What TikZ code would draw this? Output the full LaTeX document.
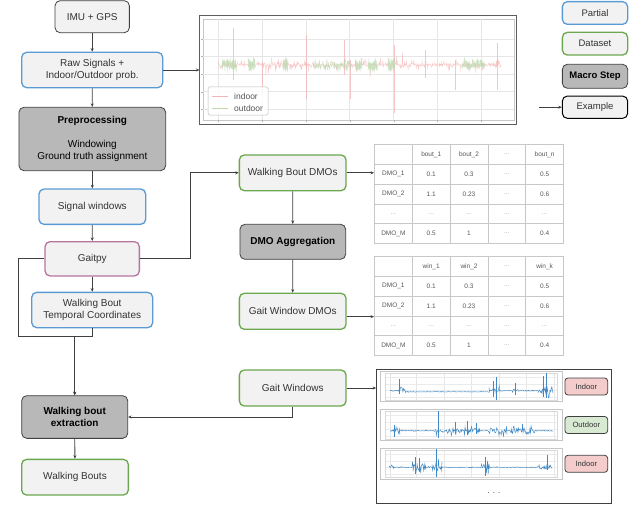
\documentclass[tikz,border=0pt]{standalone}
\usepackage{fontspec}
\setmainfont{Liberation Sans}
\usetikzlibrary{arrows.meta,calc,matrix}

\definecolor{nodefill}{HTML}{F2F2F2}
\definecolor{partblue}{HTML}{5B9BD5}
\definecolor{datagreen}{HTML}{6AA84F}
\definecolor{gaitpink}{HTML}{B5739D}
\definecolor{macrogray}{HTML}{B8B8B8}
\definecolor{darkline}{HTML}{404040}
\definecolor{txt}{HTML}{333333}
\definecolor{gridc}{HTML}{E6E6E6}
\definecolor{sigred}{HTML}{F4B4B4}
\definecolor{siggreen}{HTML}{BCDBB1}
\definecolor{sigblue}{HTML}{3F8AC6}
\definecolor{indoorfill}{HTML}{F4CCCC}
\definecolor{outdoorfill}{HTML}{D9EAD3}
\definecolor{tabline}{HTML}{C8C8C8}
\definecolor{tabtxt}{HTML}{555555}

\newcommand\tdots{{\color{tabtxt!55}...}}
\newcommand\wsig[4]{%
  \pgfmathtruncatemacro\wsn{max(3,1.8*(#2-#1))}%
  \draw[sigblue, line width=0.45pt] plot[domain=#1:#2, samples=\wsn] (\x,{#3+(2*rnd-1)*#4*(0.3+0.7*rnd^2)});}

\begin{document}
\begin{tikzpicture}[x=1pt,y=-1pt,
  box/.style={rounded corners=5pt, fill=nodefill, align=center, inner sep=0pt, text=txt, font=\fontsize{10}{12}\selectfont},
  partial/.style={box, draw=partblue, line width=1.3pt},
  dataset/.style={box, draw=datagreen, line width=1.3pt},
  macro/.style={box, draw=darkline, fill=macrogray, line width=0.8pt, text=black},
  plainbox/.style={box, draw=darkline, line width=0.8pt},
  gaitbox/.style={box, draw=gaitpink, line width=1.3pt},
  sz/.style 2 args={minimum width=#1pt, minimum height=#2pt},
  conn/.style={draw=darkline, line width=0.8pt, -{Stealth[length=3.5pt,width=3pt]}},
  legfont/.style={font=\fontsize{9.5}{11}\selectfont},
  plotbox/.style={draw=gray!45, line width=0.8pt, fill=white, inner sep=0pt},
  tagbox/.style={draw=darkline, rounded corners=3pt, line width=0.8pt, inner sep=0pt, text=txt, font=\fontsize{7.6}{9}\selectfont},
  tabstyle/.style={matrix of nodes, anchor=north west, inner sep=0pt, nodes in empty cells, column sep=-0.6pt, row sep=-0.6pt,
    nodes={draw=tabline, line width=0.6pt, minimum width=37.8pt, minimum height=19.8pt, anchor=center, inner sep=0pt,
      font=\fontsize{6.5}{7}\selectfont, text=tabtxt}},
]
\useasboundingbox (0,0) rectangle (640,519);

% ---------- left column ----------
\node[plainbox, sz={74.3}{32}] (imu) at (92.2,16.7) {IMU + GPS};
\node[partial, sz={141}{35.4}] (raw) at (92.2,70) {Raw Signals +\\Indoor/Outdoor prob.};
\node[macro, sz={146.7}{63.4}] (prep) at (92.3,139) {\textbf{Preprocessing}\\[12pt]Windowing\\Ground truth assignment};
\node[partial, sz={106.7}{35.3}] (sigwin) at (92.3,206.7) {Signal windows};
\node[gaitbox, sz={94.3}{34.3}] (gaitpy) at (92.2,258.8) {Gaitpy};
\node[partial, sz={121}{35.3}] (wbtc) at (92.2,310) {Walking Bout\\Temporal Coordinates};
\node[macro, sz={106}{42.7}] (wbe) at (74.7,417) {\textbf{Walking bout}\\\textbf{extraction}};
\node[dataset, sz={106.7}{35.7}] (wbouts) at (75,477.2) {Walking Bouts};

% ---------- middle column ----------
\node[dataset, sz={106.7}{35.7}] (wbd) at (292.7,172.8) {Walking Bout DMOs};
\node[macro, sz={105.7}{35}] (agg) at (292.8,241.8) {\textbf{DMO Aggregation}};
\node[dataset, sz={106.7}{36}] (gwd) at (292.7,311.3) {Gait Window DMOs};
\node[dataset, sz={106.7}{36}] (gw) at (292.7,388) {Gait Windows};

% ---------- legend ----------
\node[partial, legfont, sz={65.3}{22.7}] (lgp) at (595,13) {Partial};
\node[dataset, legfont, sz={65.3}{22.7}] (lgd) at (595,43.7) {Dataset};
\node[macro, legfont, sz={65.3}{24}] (lgm) at (595,76.3) {\textbf{Macro Step}};
\node[plainbox, legfont, draw=black, line width=1pt, sz={65.3}{22.3}] (lge) at (595,107.2) {Example};
\coordinate (lgs) at (539.3,107.2);
\draw[conn] (lgs) -- (lge);

% ---------- signal chart ----------
\node[draw=darkline!85, line width=1pt, sz={316.7}{108}, inner sep=0pt, fill=white] (chart) at (358.3,70) {};
\draw[gridc!70!gray, line width=0.5pt] (203,19.5) rectangle (514,120);
\foreach \gx in {218.3,262.3,306,349.7,393.7,437.3,481}
  \draw[gridc, line width=0.6pt] (\gx,19.5) -- (\gx,120);
\foreach \gy in {39,56.7,74,91.7,109.3}
  \draw[gridc, line width=0.6pt] (203,\gy) -- (514,\gy);
\foreach \gx in {218.3,262.3,306,349.7,393.7,437.3,481}
  \draw[gray!60, line width=0.4pt] (\gx,120) -- (\gx,122);
\foreach \gy in {39,56.7,74,91.7,109.3}
  \draw[gray!60, line width=0.4pt] (201,\gy) -- (203,\gy);
\pgfmathsetseed{7}
\begin{scope}[opacity=0.75]
\draw[sigred, line width=0.35pt] plot[domain=218:501, samples=650] (\x,{65+(2*rnd-1)*(1.2+6*rnd^3+(rnd>0.985)*18*rnd)});
\foreach \sx/\sa/\sb in {233/28/80, 262.5/62/95, 306/35/99, 350/60/99, 393.7/45/113, 455/60/90, 497/43/90, 344/40/75, 425/50/78}
  \draw[sigred, line width=0.4pt] (\sx,\sa) -- (\sx,\sb);
\foreach \ga/\gb in {222/237, 248/255, 283/288, 313/352, 355/362, 368/377, 388/395, 462/485}
  \draw[siggreen, line width=0.4pt] plot[domain=\ga:\gb, samples=90] (\x,{65+(2*rnd-1)*(2+7*rnd)});
\end{scope}
\draw[gridc!60!gray, fill=white, fill opacity=0.85, rounded corners=1.5pt, line width=0.5pt] (208,87) rectangle (268,115);
\draw[sigred, line width=1pt] (212,96.5) -- (228,96.5);
\draw[siggreen, line width=1pt] (212,108) -- (228,108);
\node[anchor=west, inner sep=0pt, text=tabtxt, font=\fontsize{8.5}{10}\selectfont] (lgin) at (234,96) {indoor};
\node[anchor=west, inner sep=0pt, text=tabtxt, font=\fontsize{8.5}{10}\selectfont] (lgout) at (234,108) {outdoor};

% ---------- tables ----------
\matrix (t1) [tabstyle] at (374,144)
{
        & bout\_1 & bout\_2 & \tdots & bout\_n \\
DMO\_1  & 0.1     & 0.3     & \tdots & 0.5 \\
DMO\_2  & 1.1     & 0.23    & \tdots & 0.6 \\
\tdots  & \tdots  & \tdots  & \tdots & \tdots \\
DMO\_M  & 0.5     & 1       & \tdots & 0.4 \\
};
\matrix (t2) [tabstyle] at (374,256)
{
        & win\_1  & win\_2  & \tdots & win\_k \\
DMO\_1  & 0.1     & 0.3     & \tdots & 0.5 \\
DMO\_2  & 1.1     & 0.23    & \tdots & 0.6 \\
\tdots  & \tdots  & \tdots  & \tdots & \tdots \\
DMO\_M  & 0.5     & 1       & \tdots & 0.4 \\
};

% ---------- gait windows panel ----------
\node[draw=darkline, line width=1pt, sz={235.3}{134}, inner sep=0pt, fill=white] (wp) at (494.3,436) {};
\node[plotbox, sz={182.7}{30.7}] (p1) at (471.3,386.3) {};
\node[plotbox, sz={182.7}{31.7}] (p2) at (471.3,424.8) {};
\node[plotbox, sz={182.7}{31}] (p3) at (471.3,463.5) {};
\foreach \ta/\tb in {373/400, 411/439, 450/477}{
  \foreach \gx in {390,416.7,444,471.7,499.3,526.7,554}
    \draw[gridc, line width=0.5pt] (\gx,\ta) -- (\gx,\tb);
  \foreach \fr in {0.15,0.4,0.65,0.9}
    \draw[gridc!80, line width=0.5pt] (385,{\ta+\fr*(\tb-\ta)}) -- (557,{\ta+\fr*(\tb-\ta)});
  \draw[gray!30, line width=0.5pt] (385,\ta) rectangle (557,\tb);
}
\pgfmathsetseed{11}
% plot 1
\wsig{390}{398}{390.7}{1.5}
\wsig{398}{406}{390.7}{5}
\wsig{406}{489}{391.8}{0.5}
\wsig{489}{501}{390.7}{7}
\wsig{501}{512}{390.7}{0.8}
\wsig{512}{518}{390.7}{4}
\wsig{518}{538}{390.7}{1}
\wsig{538}{553}{390.7}{8}
\foreach \sx/\sa/\sb in {399.5/379/394, 496/377/400, 493/381/397, 546.7/372.7/398, 543/376/397, 515/383/395}
  \draw[sigblue, line width=0.45pt] (\sx,\sa) -- (\sx,\sb);
% plot 2
\wsig{390}{392}{430.7}{1}
\wsig{392}{400}{430.7}{5}
\wsig{400}{435}{430.7}{0.8}
\wsig{435}{441}{430.7}{5}
\wsig{441}{449}{430.7}{3}
\wsig{449}{480}{430.7}{6}
\wsig{480}{488}{430.7}{0.8}
\wsig{488}{507}{430.7}{7}
\wsig{507}{510}{430.7}{0.8}
\wsig{510}{535}{430.7}{7}
\wsig{535}{553}{430.7}{1}
\foreach \sx/\sa/\sb in {394/425/437, 438.3/410.7/438.3, 455/422/434, 467.7/421/435, 476/423/434}
  \draw[sigblue, line width=0.45pt] (\sx,\sa) -- (\sx,\sb);
% plot 3
\wsig{389}{394}{467.3}{3}
\wsig{394}{412}{467.3}{0.7}
\wsig{412}{426}{467.3}{7}
\wsig{426}{432}{467.3}{1.5}
\wsig{432}{442}{467.3}{9}
\wsig{442}{481}{467.3}{0.8}
\wsig{481}{490}{467.3}{8}
\wsig{490}{538}{467.3}{0.8}
\wsig{538}{552}{467.3}{4}
\foreach \sx/\sa/\sb in {415/457/474, 419/458/472, 436.7/449/476.7, 485/456.7/476, 547/455/470}
  \draw[sigblue, line width=0.45pt] (\sx,\sa) -- (\sx,\sb);

\node[tagbox, fill=indoorfill, sz={42.7}{17}] (tag1) at (586.3,386.5) {Indoor};
\node[tagbox, fill=outdoorfill, sz={42.7}{17}] (tag2) at (586.3,425) {Outdoor};
\node[tagbox, fill=indoorfill, sz={42.7}{17}] (tag3) at (586.3,463.8) {Indoor};
\node[inner sep=0pt, text=txt, font=\fontsize{8}{9}\selectfont] (wdots) at (494,493) {. . .};

% ---------- connectors ----------
\draw[conn] (imu) -- (raw);
\draw[conn] (raw) -- (prep);
\draw[conn] (prep) -- (sigwin);
\draw[conn] (sigwin) -- (gaitpy);
\draw[conn] (gaitpy) -- (wbtc);
\draw[conn] (wbe) -- (wbouts);
\draw[conn] (wbd) -- (agg);
\draw[conn] (agg) -- (gwd);
\draw[conn] (raw.east) -- (raw.east -| chart.west);

\coordinate (lft) at (18.5,336);
\coordinate (mrg) at (74.7,336);
\draw[conn] (gaitpy.west) -- (gaitpy.west -| lft) -- (lft) -- (mrg) -- (wbe.north);
\draw[conn] (wbtc.south) -- (wbtc.south |- lft) -- (mrg) -- (wbe.north);

\coordinate (jx) at (190,0);
\draw[conn] (gaitpy.east) -- (gaitpy.east -| jx) |- (wbd.west);
\draw[conn] (gw.south) |- (wbe.east);

\draw[conn] (wbd.east) -- (wbd.east -| t1.west);
\path ([yshift=-5.3pt]gwd.east) coordinate (gwdout);
\draw[conn] (gwdout) -- (gwdout -| t2.west);
\draw[conn] (gw.east) -- (gw.east -| wp.west);

\end{tikzpicture}
\end{document}
